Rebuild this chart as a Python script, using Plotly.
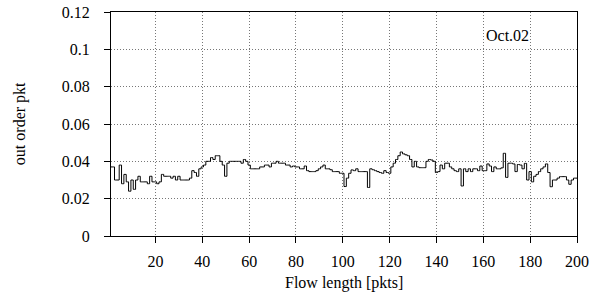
import plotly.graph_objects as go

flow_len = list(range(1, 201))
out_order = [
    0.037, 0.037, 0.030, 0.030, 0.038, 0.028, 0.033, 0.029, 0.024, 0.030,
    0.025, 0.030, 0.032, 0.029, 0.029, 0.029, 0.028, 0.032, 0.029, 0.029,
    0.028, 0.029, 0.033, 0.032, 0.032, 0.032, 0.031, 0.032, 0.030, 0.032,
    0.030, 0.030, 0.030, 0.030, 0.031, 0.035, 0.034, 0.032, 0.036, 0.037,
    0.038, 0.040, 0.040, 0.042, 0.041, 0.043, 0.043, 0.040, 0.038, 0.032,
    0.039, 0.040, 0.040, 0.040, 0.040, 0.040, 0.039, 0.041, 0.040, 0.038,
    0.036, 0.036, 0.036, 0.036, 0.037, 0.037, 0.038, 0.038, 0.037, 0.039,
    0.039, 0.040, 0.039, 0.039, 0.039, 0.038, 0.038, 0.037, 0.0375, 0.037,
    0.037, 0.036, 0.036, 0.0375, 0.035, 0.0345, 0.0345, 0.0345, 0.035, 0.036,
    0.037, 0.038, 0.036, 0.036, 0.0355, 0.0345, 0.0345, 0.0345, 0.0336, 0.0336,
    0.0265, 0.031, 0.0336, 0.0354, 0.035, 0.036, 0.0345, 0.0345, 0.0345, 0.0345,
    0.026, 0.036, 0.0355, 0.035, 0.0345, 0.034, 0.0336, 0.035, 0.034, 0.0336,
    0.037, 0.039, 0.041, 0.043, 0.045, 0.044, 0.0435, 0.043, 0.041, 0.037,
    0.040, 0.037, 0.0366, 0.0366, 0.0366, 0.040, 0.041, 0.0407, 0.040, 0.034,
    0.0345, 0.038, 0.036, 0.039, 0.039, 0.037, 0.036, 0.035, 0.0345, 0.036,
    0.0268, 0.036, 0.0345, 0.036, 0.0345, 0.036, 0.036, 0.035, 0.0375, 0.035,
    0.035, 0.0386, 0.0375, 0.0345, 0.037, 0.036, 0.036, 0.0365, 0.0443, 0.0314,
    0.039, 0.039, 0.0386, 0.0345, 0.0383, 0.038, 0.036, 0.0389, 0.030, 0.0345,
    0.029, 0.032, 0.033, 0.0345, 0.036, 0.037, 0.0386, 0.034, 0.0264, 0.030,
    0.030, 0.031, 0.0318, 0.0318, 0.0318, 0.030, 0.0277, 0.030, 0.031, 0.031,
]

x_ticks = [20, 40, 60, 80, 100, 120, 140, 160, 180, 200]
y_ticks = [0, 0.02, 0.04, 0.06, 0.08, 0.1, 0.12]
y_tick_text = ["0", "0.02", "0.04", "0.06", "0.08", "0.1", "0.12"]

FONT = "Liberation Serif"
GRID_DASH = "1px,2px"

fig = go.Figure()
fig.add_trace(go.Scatter(
    x=flow_len, y=out_order, mode="lines",
    line=dict(color="black", width=1, shape="hvh"),
    showlegend=False,
))

fig.update_layout(
    template="none",
    width=599, height=296,
    margin=dict(l=111, r=22, t=12, b=60),
    paper_bgcolor="white", plot_bgcolor="white",
    font=dict(family=FONT, size=16, color="black"),
    annotations=[
        dict(text="Oct.02", x=0.85, y=0.897, xref="paper", yref="paper",
             xanchor="center", yanchor="middle",
             showarrow=False, font=dict(family=FONT, size=16, color="black")),
        dict(text="Flow length [pkts]", x=0.5, y=-0.21, xref="paper", yref="paper",
             xanchor="center", yanchor="middle",
             showarrow=False, font=dict(family=FONT, size=16, color="black")),
        dict(text="out order pkt", x=-0.195, y=0.5, xref="paper", yref="paper",
             xanchor="center", yanchor="middle",
             textangle=-90, showarrow=False,
             font=dict(family=FONT, size=16, color="black")),
    ],
)

fig.update_xaxes(
    range=[1, 200], tickvals=x_ticks, ticks="outside", ticklen=6,
    tickcolor="black", showline=True, linecolor="black", linewidth=1,
    mirror=True, showgrid=True, gridcolor="#777777", griddash=GRID_DASH,
    gridwidth=1, zeroline=False, ticklabelstandoff=5, automargin=False,
    tickfont=dict(family=FONT, size=16, color="black"),
)
fig.update_yaxes(
    range=[0, 0.12], tickvals=y_ticks, ticktext=y_tick_text,
    ticks="outside", ticklen=6, tickcolor="black", showline=True,
    linecolor="black", linewidth=1, mirror=True, showgrid=True,
    gridcolor="#777777", griddash=GRID_DASH, gridwidth=1, zeroline=False,
    ticklabelstandoff=11, automargin=False,
    tickfont=dict(family=FONT, size=16, color="black"),
)

fig.write_html("out.html", config={"displayModeBar": False},
               post_script="document.body.style.margin='0';")
